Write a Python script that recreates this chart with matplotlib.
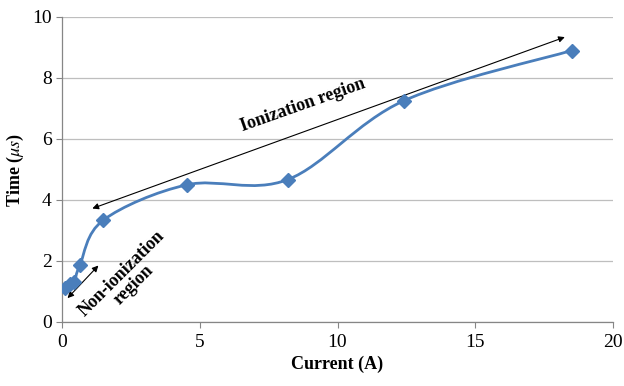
import matplotlib.pyplot as plt
from matplotlib.path import Path
from matplotlib.patches import PathPatch
import numpy as np

plt.rcParams['font.family'] = 'Liberation Serif'
plt.rcParams['mathtext.fontset'] = 'stix'

# Measured points
current = [0.1, 0.3, 0.45, 0.65, 1.5, 4.55, 8.2, 12.4, 18.5]
time_us = [1.1, 1.25, 1.32, 1.87, 3.34, 4.5, 4.67, 7.25, 8.9]

x_ticks = [0, 5, 10, 15, 20]
y_ticks = [0, 2, 4, 6, 8, 10]

blue = '#4A7EBB'

fig = plt.figure(figsize=(6.24, 3.86), dpi=100)
ax = fig.add_axes([0.0994, 0.166, 0.883, 0.790])

# smoothed line (cubic bezier through the points, like a spreadsheet "smooth line")
pts = np.column_stack([current, time_us])
verts = [pts[0]]
codes = [Path.MOVETO]
for i in range(len(pts) - 1):
    p0 = pts[i - 1] if i > 0 else pts[i]
    p1 = pts[i]
    p2 = pts[i + 1]
    p3 = pts[i + 2] if i + 2 < len(pts) else pts[i + 1]
    c1 = p1 + (p2 - p0) / 6.0
    c2 = p2 - (p3 - p1) / 6.0
    verts += [c1, c2, p2]
    codes += [Path.CURVE4] * 3
ax.add_patch(PathPatch(Path(verts, codes), facecolor='none', edgecolor=blue,
                       lw=2.0, zorder=3))
ax.plot(current, time_us, linestyle='none', marker='D', ms=7.5, color=blue, zorder=4)

# region arrows
ax.annotate('', xy=(1.1, 3.72), xytext=(18.25, 9.34),
            arrowprops=dict(arrowstyle='<|-|>', color='black', lw=0.8,
                            mutation_scale=9, shrinkA=0, shrinkB=0))
ax.annotate('', xy=(0.2, 0.78), xytext=(1.32, 1.85),
            arrowprops=dict(arrowstyle='<|-|>', color='black', lw=0.8,
                            mutation_scale=9, shrinkA=0, shrinkB=0))
ax.text(8.75, 7.1, 'Ionization region', rotation=19.5, ha='center', va='center',
        fontsize=13, fontweight='bold')
ax.text(2.4, 1.4, 'Non-ionization\nregion', rotation=45, ha='center', va='center',
        fontsize=13, fontweight='bold', linespacing=1.0)

ax.set_xlim(0, 20)
ax.set_ylim(0, 10)
ax.set_xticks(x_ticks)
ax.set_yticks(y_ticks)
ax.tick_params(labelsize=14, length=4, color='#868686', width=0.8)
ax.tick_params(axis='x', pad=5)
ax.grid(axis='y', color='#BEBEBE', lw=0.9)
ax.set_axisbelow(True)
for s in ['top', 'right']:
    ax.spines[s].set_visible(False)
for s in ['left', 'bottom']:
    ax.spines[s].set_color('#868686')
    ax.spines[s].set_linewidth(0.9)

ax.set_xlabel('Current (A)', fontsize=13, fontweight='bold', labelpad=3)
ax.set_ylabel(r'Time ($\mu s$)', fontsize=13, fontweight='bold', labelpad=4)

fig.savefig('out.png', dpi=100)
